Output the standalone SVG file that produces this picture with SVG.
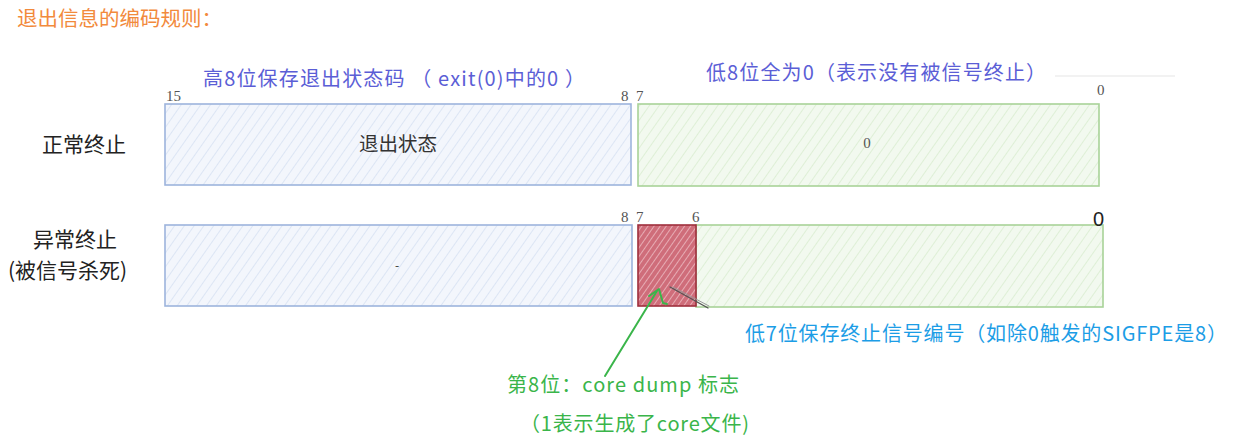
<svg xmlns="http://www.w3.org/2000/svg" width="1235" height="444" viewBox="0 0 1235 444">
<style>
.cjk{font-family:"Noto Sans CJK SC","Noto Sans",sans-serif}
.num{font-family:"Liberation Serif",serif;font-size:15px;fill:#555}
.blueBox{fill:url(#hBlue);stroke:#9db4dc;stroke-width:1.6}
.greenBox{fill:url(#hGreen);stroke:#a8d398;stroke-width:1.6}
.redBox{fill:url(#hRed);stroke:#9e2f3c;stroke-width:1.6}
</style>
<defs>
<pattern id="hBlue" patternUnits="userSpaceOnUse" width="8" height="8" patternTransform="rotate(35)">
<rect width="8" height="8" fill="#f3f6fc"/><line x1="0" y1="0" x2="0" y2="8" stroke="#dce5f4" stroke-width="2"/></pattern>
<pattern id="hGreen" patternUnits="userSpaceOnUse" width="8" height="8" patternTransform="rotate(35)">
<rect width="8" height="8" fill="#f2f9ef"/><line x1="0" y1="0" x2="0" y2="8" stroke="#deefd6" stroke-width="2"/></pattern>
<pattern id="hRed" patternUnits="userSpaceOnUse" width="5" height="5" patternTransform="rotate(35)">
<rect width="5" height="5" fill="#cf6d7a"/><line x1="0" y1="0" x2="0" y2="5" stroke="#f0c2c8" stroke-width="1.5"/></pattern>
</defs>
<rect width="1235" height="444" fill="#fff"/>
<text x="17" y="26" class="cjk" font-size="20.5" fill="#f28a3c">退出信息的编码规则：</text>
<g id="labels-top">
<text x="203" y="86" class="cjk" font-size="20" fill="#5b5ed6" textLength="382">高8位保存退出状态码 （ exit(0)中的0 ）</text>
<text x="706" y="80" class="cjk" font-size="20" fill="#5b5ed6" textLength="340">低8位全为0（表示没有被信号终止）</text>
<line x1="1055" y1="76" x2="1175" y2="76" stroke="#eeeeee" stroke-width="1.5"/>
</g>
<g id="row-normal">
<text x="42" y="152" class="cjk" font-size="21" fill="#222">正常终止</text>
<rect id="normal-high" class="blueBox" x="165" y="104" width="466" height="81"/>
<rect id="normal-low" class="greenBox" x="638" y="104" width="461" height="82"/>
<text x="398" y="151" class="cjk" font-size="19.5" fill="#333" text-anchor="middle">退出状态</text>
<text x="867" y="148" class="num" font-size="15" text-anchor="middle">0</text>
<text x="166" y="101" class="num">15</text>
<text x="621" y="101" class="num">8</text>
<text x="636" y="101" class="num">7</text>
<text x="1097" y="95" class="num">0</text>
</g>
<g id="row-abnormal">
<text x="33" y="247" class="cjk" font-size="21" fill="#222">异常终止</text>
<text x="8" y="278" class="cjk" font-size="21" fill="#222">(被信号杀死)</text>
<rect id="abn-high" class="blueBox" x="165" y="225" width="467" height="81"/>
<rect id="abn-low" class="greenBox" x="696" y="225" width="407" height="82"/>
<rect id="core-bit" class="redBox" x="638" y="225" width="58" height="81"/>
<text x="397" y="270" class="cjk" font-size="12" fill="#333" text-anchor="middle">-</text>
<text x="621" y="222" class="num">8</text>
<text x="636" y="222" class="num">7</text>
<text x="692" y="222" class="num">6</text>
<text x="1093" y="226" font-family="Liberation Sans,sans-serif" font-size="20" fill="#222">0</text>
</g>
<g id="connectors" fill="none" stroke-linecap="round" stroke-linejoin="round">
<path d="M605 376 L657 291" stroke="#3ab54a" stroke-width="2"/>
<polyline points="649,296 659,289 663,303 667,304" stroke="#3ab54a" stroke-width="2"/>
<path d="M670 287 L708 308" stroke="#555" stroke-width="1.3"/>
<path d="M673 287 L709 306" stroke="#999" stroke-width="1"/>
</g>
<g id="labels-bottom">
<text x="745" y="341" class="cjk" font-size="20" fill="#1c9de6" textLength="482">低7位保存终止信号编号（如除0触发的SIGFPE是8）</text>
<text x="507" y="392" class="cjk" font-size="20" fill="#3ab54a" textLength="232">第8位：core dump 标志</text>
<text x="520" y="431" class="cjk" font-size="20" fill="#3ab54a" textLength="229">（1表示生成了core文件)</text>
</g>
</svg>
